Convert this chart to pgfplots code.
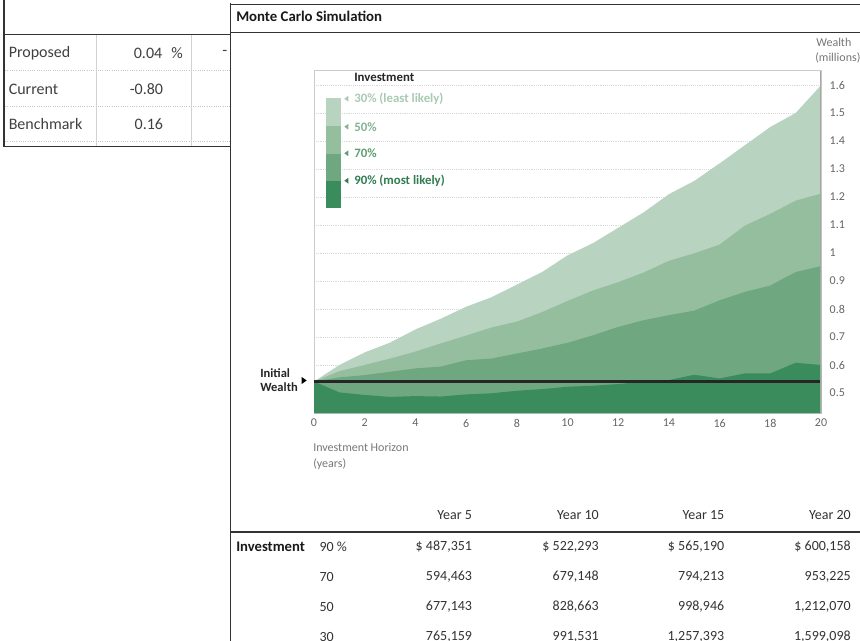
\documentclass[border=0pt]{standalone}
\usepackage{pgfplots}
\pgfplotsset{compat=1.18}
\usepackage{pgfplotstable}
\usepackage{fontspec}
\setmainfont{Carlito}
\definecolor{cA}{HTML}{B9D3C1}
\definecolor{cB}{HTML}{95BE9F}
\definecolor{cC}{HTML}{6FA880}
\definecolor{cD}{HTML}{3A8C5C}
\definecolor{tA}{HTML}{A9CAB3}
\definecolor{tB}{HTML}{82B392}
\definecolor{tC}{HTML}{5E9E73}
\definecolor{tD}{HTML}{2F7D50}
\definecolor{axg}{HTML}{777777}
\definecolor{tickg}{HTML}{666666}
\definecolor{txt}{HTML}{333333}
\definecolor{brd}{HTML}{333333}

\pgfplotstableread{
x p30 p50 p70 p90
0 0.541 0.541 0.541 0.541
1 0.600 0.578 0.556 0.502
2 0.645 0.600 0.564 0.493
3 0.680 0.623 0.576 0.486
4 0.727 0.648 0.588 0.489
5 0.765159 0.677143 0.594463 0.487351
6 0.808 0.705 0.617 0.495
7 0.842 0.734 0.623 0.499
8 0.887 0.755 0.641 0.508
9 0.932 0.789 0.659 0.514
10 0.991531 0.828663 0.679148 0.522293
11 1.035 0.866 0.706 0.526
12 1.090 0.896 0.736 0.532
13 1.145 0.930 0.760 0.540
14 1.210 0.972 0.778 0.546
15 1.257393 0.998946 0.794213 0.565190
16 1.320 1.030 0.831 0.552
17 1.385 1.098 0.861 0.570
18 1.450 1.140 0.884 0.570
19 1.500 1.187 0.932 0.608
20 1.599098 1.212070 0.953225 0.600158
}\mc

\pgfplotstableread{
x w
0 0.541
20 0.541
}\initw

\begin{document}
\begin{tikzpicture}[x=0.75pt,y=-0.75pt]
\useasboundingbox (0,0) rectangle (860,641);
\fill[white] (0,0) rectangle (860,641);

% ---------- chart ----------
\begin{axis}[
  at={(235.5pt,-309.75pt)}, anchor=south west,
  scale only axis, width=380.25pt, height=256.7pt,
  xmin=0, xmax=20, ymin=0.4286, ymax=1.651,
  xtick={0,2,...,20}, ytick={0.5,0.6,...,1.65},
  yticklabel pos=right,
  ymajorgrids, grid style={gray!30, densely dotted, line width=0.6pt},
  major tick length=0pt, tick style={draw=none},
  axis line style={draw=gray!40, line width=0.6pt},
  /pgf/number format/assume math mode=true,
  /pgf/number format/fixed,
  /pgf/number format/precision=1,
  ticklabel style={font={\fontsize{9}{10}\selectfont}, text=tickg},
  yticklabel style={xshift=3pt},
  xticklabel style={yshift=-1pt},
  clip=true,
]
\addplot[fill=cA, draw=none] table[x=x,y=p30]{\mc} \closedcycle;
\addplot[fill=cB, draw=none] table[x=x,y=p50]{\mc} \closedcycle;
\addplot[fill=cC, draw=none] table[x=x,y=p70]{\mc} \closedcycle;
\addplot[fill=cD, draw=none] table[x=x,y=p90]{\mc} \closedcycle;
\addplot[black!85, line width=1.6pt] table[x=x,y=w]{\initw};
\draw[gray!70, line width=0.8pt] (axis cs:20,0.4286) -- (axis cs:20,1.651);
\end{axis}

% legend
\fill[cA] (325.7,97.7) rectangle (340.7,126);
\fill[cB] (325.7,126) rectangle (340.7,153.7);
\fill[cC] (325.7,153.7) rectangle (340.7,181);
\fill[cD] (325.7,181) rectangle (340.7,208.3);
\node[anchor=west, inner sep=0pt, font={\fontsize{9.6}{10}\selectfont\bfseries}, text=black!85] at (354,77) {Investment};
\fill[tA] (348.3,95.8) -- (344.3,98.7) -- (348.3,101.6) -- cycle;
\fill[tB] (348.3,123.8) -- (344.3,126.7) -- (348.3,129.6) -- cycle;
\fill[tC] (348.3,150.4) -- (344.3,153.3) -- (348.3,156.2) -- cycle;
\fill[tD] (348.3,177.8) -- (344.3,180.7) -- (348.3,183.6) -- cycle;
\node[anchor=west, inner sep=0pt, font={\fontsize{9.6}{10}\selectfont\bfseries}, text=tA] at (354,98.7) {30\% (least likely)};
\node[anchor=west, inner sep=0pt, font={\fontsize{9.6}{10}\selectfont\bfseries}, text=tB] at (354,126.7) {50\%};
\node[anchor=west, inner sep=0pt, font={\fontsize{9.6}{10}\selectfont\bfseries}, text=tC] at (354,153.3) {70\%};
\node[anchor=west, inner sep=0pt, font={\fontsize{9.6}{10}\selectfont\bfseries}, text=tD] at (354,180.7) {90\% (most likely)};

% initial wealth
\node[anchor=west, inner sep=0pt, font={\fontsize{9.4}{10}\selectfont\bfseries}, text=black!85] at (260,373.3) {Initial};
\node[anchor=west, inner sep=0pt, font={\fontsize{9.4}{10}\selectfont\bfseries}, text=black!85] at (260,386.7) {Wealth};
\fill[black] (301.7,377) -- (306.7,380.5) -- (301.7,384) -- cycle;

% axis titles
\node[anchor=west, inner sep=0pt, font={\fontsize{9}{10}\selectfont}, text=axg] at (313,447) {Investment Horizon};
\node[anchor=west, inner sep=0pt, font={\fontsize{9}{10}\selectfont}, text=axg] at (313,464) {(years)};
\node[anchor=west, inner sep=0pt, font={\fontsize{9}{10}\selectfont}, text=axg] at (816,42) {Wealth};
\node[anchor=west, inner sep=0pt, font={\fontsize{9}{10}\selectfont}, text=axg] at (815,58.3) {(millions)};

% ---------- left table ----------
\draw[brd, line width=1.1pt] (4,0) -- (4,147);
\draw[brd, line width=1.1pt] (4,34.4) -- (230,34.4);
\draw[brd, line width=1.1pt] (4,146.7) -- (230,146.7);
\foreach \yy in {70.7,106,141.7} \draw[gray!45, densely dotted, line width=0.7pt] (5,\yy) -- (230,\yy);
\draw[gray!35, line width=0.9pt] (96.7,35) -- (96.7,146);
\draw[gray!35, line width=0.9pt] (191.7,35) -- (191.7,146);
\begin{scope}[every node/.style={inner sep=0pt, font={\fontsize{12}{13}\selectfont}, text=black!75}]
\node[anchor=west] at (8.5,53.3) {Proposed};
\node[anchor=west] at (8.5,89.3) {Current};
\node[anchor=west] at (8.5,124.3) {Benchmark};
\node[anchor=east] at (162.5,53.3) {0.04};
\node[anchor=west] at (171,53.3) {\%};
\node[anchor=east] at (163.3,89.3) {-0.80};
\node[anchor=east] at (163.3,124.3) {0.16};
\node[anchor=west] at (222,53.3) {-};
\end{scope}

% ---------- main panel frame ----------
\draw[brd, line width=1.2pt] (230.5,3) -- (230.5,641);
\draw[brd, line width=1.2pt] (230,4.5) -- (860,4.5);
\draw[brd, line width=1pt] (230,32.3) -- (860,32.3);
\node[anchor=west, inner sep=0pt, font={\fontsize{11.1}{12}\selectfont\bfseries}, text=black!90] at (236,16.5) {Monte Carlo Simulation};

% ---------- bottom table ----------
\draw[brd, line width=1.3pt] (230,531.7) -- (860,531.7);
\begin{scope}[every node/.style={inner sep=0pt, font={\fontsize{10.5}{12}\selectfont}, text=txt}]
\node[anchor=east] at (472.3,515) {Year 5};
\node[anchor=east] at (599,515) {Year 10};
\node[anchor=east] at (724.5,515) {Year 15};
\node[anchor=east] at (851,515) {Year 20};
\node[anchor=west, font={\fontsize{11}{12}\selectfont\bfseries}, text=black!90] at (236,546.7) {Investment};
\node[anchor=west] at (319.3,546.7) {90 \%};
\node[anchor=west] at (319.3,576.7) {70};
\node[anchor=west] at (319.3,606.7) {50};
\node[anchor=west] at (319.3,636.7) {30};
\node[anchor=east] at (472.3,546.7) {\$ 487,351};
\node[anchor=east] at (599,546.7) {\$ 522,293};
\node[anchor=east] at (724.5,546.7) {\$ 565,190};
\node[anchor=east] at (851,546.7) {\$ 600,158};
\node[anchor=east] at (472.3,576.7) {594,463};
\node[anchor=east] at (599,576.7) {679,148};
\node[anchor=east] at (724.5,576.7) {794,213};
\node[anchor=east] at (851,576.7) {953,225};
\node[anchor=east] at (472.3,606.7) {677,143};
\node[anchor=east] at (599,606.7) {828,663};
\node[anchor=east] at (724.5,606.7) {998,946};
\node[anchor=east] at (851,606.7) {1,212,070};
\node[anchor=east] at (472.3,636.7) {765,159};
\node[anchor=east] at (599,636.7) {991,531};
\node[anchor=east] at (724.5,636.7) {1,257,393};
\node[anchor=east] at (851,636.7) {1,599,098};
\end{scope}
\end{tikzpicture}
\end{document}
